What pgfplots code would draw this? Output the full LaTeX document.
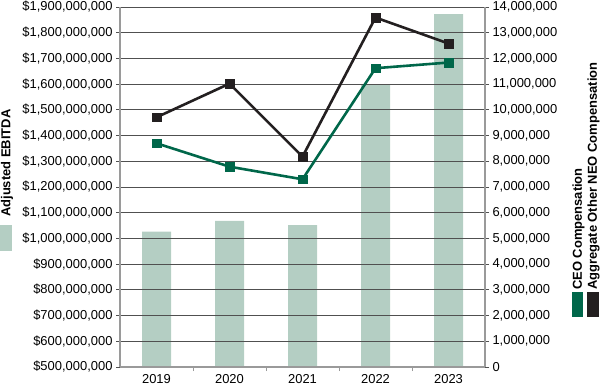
\documentclass[border=0pt]{standalone}
\usepackage{pgfplots}
\pgfplotsset{compat=1.18}
\usepackage{fontspec}
\setmainfont{Liberation Sans}
\definecolor{barc}{HTML}{B4CEC3}
\definecolor{ceoc}{HTML}{00674A}
\definecolor{neoc}{HTML}{231F20}
\definecolor{gridc}{HTML}{505050}
\definecolor{axc}{HTML}{9A9A9A}
\newcommand{\tfont}{\fontsize{13}{15.5}\selectfont}
\begin{document}
\begin{tikzpicture}[x=1bp,y=1bp]
\useasboundingbox (0,0) rectangle (600,388);
\begin{axis}[
  at={(120bp,21bp)}, anchor=south west,
  scale only axis, width=365bp, height=360bp,
  xmin=-0.5, xmax=4.5, ymin=500000000, ymax=1900000000,
  axis x line*=bottom, axis y line*=left,
  axis line style={axc, line width=1.5bp, -},
  axis on top,
  scaled y ticks=false,
  ytick={500000000,600000000,700000000,800000000,900000000,1000000000,1100000000,1200000000,1300000000,1400000000,1500000000,1600000000,1700000000,1800000000,1900000000},
  yticklabels={{\$500,000,000},{\$600,000,000},{\$700,000,000},{\$800,000,000},{\$900,000,000},{\$1,000,000,000},{\$1,100,000,000},{\$1,200,000,000},{\$1,300,000,000},{\$1,400,000,000},{\$1,500,000,000},{\$1,600,000,000},{\$1,700,000,000},{\$1,800,000,000},{\$1,900,000,000}},
  xtick={0,1,2,3,4},
  xticklabels={2019,2020,2021,2022,2023},
  minor xtick={0.5,1.5,2.5,3.5},
  tick align=outside,
  major tick length=4bp, minor tick length=4bp,
  major x tick style={draw=none},
  minor x tick style={axc, line width=1bp},
  major y tick style={gridc, line width=0.8bp},
  ymajorgrids,
  grid style={gridc, line width=0.8bp},
  ticklabel style={font=\tfont},
]
\addplot[ybar, bar width=29bp, fill=barc, draw=none] coordinates {(0,1026000000) (1,1068000000) (2,1052000000) (3,1596000000) (4,1872000000)};
\end{axis}
\begin{axis}[
  at={(120bp,21bp)}, anchor=south west,
  scale only axis, width=365bp, height=360bp,
  xmin=-0.5, xmax=4.5, ymin=0, ymax=14000000,
  axis x line=none, axis y line*=right,
  axis line style={axc, line width=1.5bp, -},
  scaled y ticks=false,
  ytick={0,1000000,2000000,3000000,4000000,5000000,6000000,7000000,8000000,9000000,10000000,11000000,12000000,13000000,14000000},
  yticklabels={0,{1,000,000},{2,000,000},{3,000,000},{4,000,000},{5,000,000},{6,000,000},{7,000,000},{8,000,000},{9,000,000},{10,000,000},{11,000,000},{12,000,000},{13,000,000},{14,000,000}},
  tick align=outside, major tick length=4bp,
  major y tick style={gridc, line width=0.8bp},
  ticklabel style={font=\tfont},
  clip=false,
]
\addplot[ceoc, line width=2.6bp, mark=square*, mark size=4.3bp, mark options={solid, line width=0.4bp}] coordinates {(0,8700000) (1,7790000) (2,7300000) (3,11620000) (4,11840000)};
\addplot[neoc, line width=2.6bp, mark=square*, mark size=4.3bp, mark options={solid, line width=0.4bp}] coordinates {(0,9710000) (1,11020000) (2,8180000) (3,13590000) (4,12580000)};
\end{axis}
\node[rotate=90, anchor=west, font=\tfont\bfseries, inner sep=0pt] at (7,171) {Adjusted EBITDA};
\fill[barc] (0,137) rectangle (12,163);
\node[rotate=90, anchor=west, font=\tfont\bfseries, inner sep=0pt] at (578.5,98) {CEO Compensation};
\node[rotate=90, anchor=west, font=\tfont\bfseries, inner sep=0pt] at (593.5,98) {Aggregate Other NEO Compensation};
\fill[ceoc] (572,71) rectangle (583,96);
\fill[neoc] (587,71) rectangle (599,96);
\end{tikzpicture}
\end{document}
